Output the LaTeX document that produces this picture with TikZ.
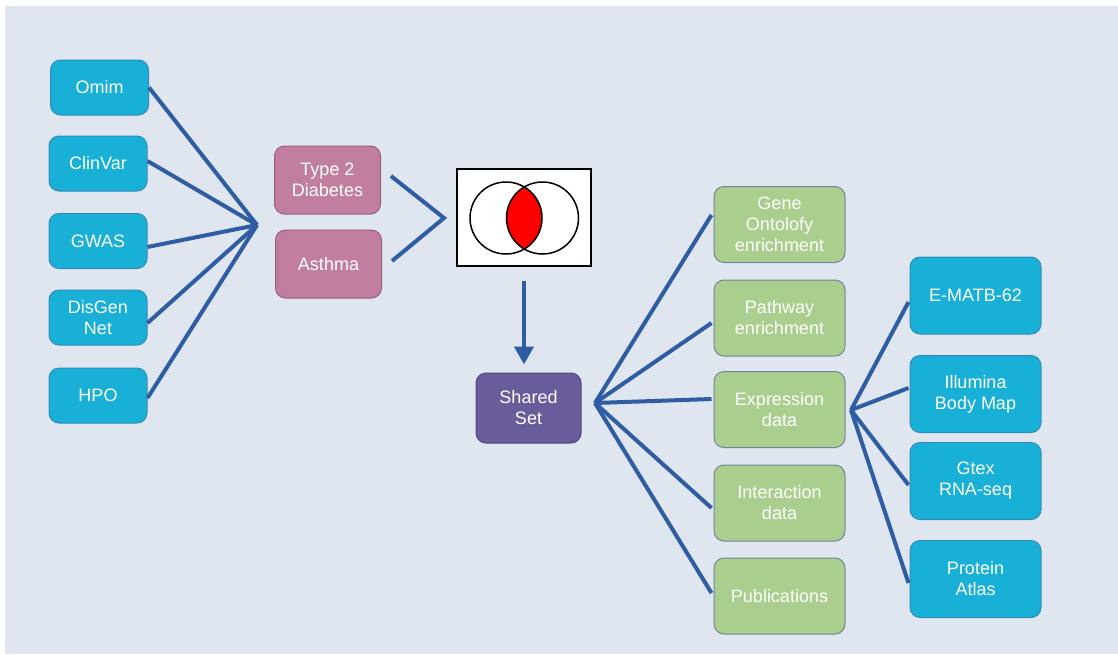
\documentclass[tikz,border=0pt]{standalone}
\usepackage{fontspec}
\setmainfont{Liberation Sans}
\usetikzlibrary{arrows.meta,calc}
\definecolor{bg}{RGB}{223,230,240}
\definecolor{cyanfill}{RGB}{24,176,214}
\definecolor{cyanline}{RGB}{50,140,185}
\definecolor{pinkfill}{RGB}{193,126,158}
\definecolor{pinkline}{RGB}{150,95,130}
\definecolor{purplefill}{RGB}{106,91,155}
\definecolor{purpleline}{RGB}{80,70,130}
\definecolor{greenfill}{RGB}{170,206,142}
\definecolor{greenline}{RGB}{110,135,150}
\definecolor{linkc}{RGB}{46,93,163}
\begin{document}
\begin{tikzpicture}[x=1pt,y=-1pt,
  box/.style={rounded corners=10pt, draw, line width=1pt, text=white, align=center,
    font=\fontsize{18}{21}\selectfont, inner sep=0pt},
  cbox/.style={box, fill=cyanfill, draw=cyanline, minimum width=98pt, minimum height=55pt},
  rbox/.style={box, fill=cyanfill, draw=cyanline, minimum width=131pt, minimum height=77pt},
  pbox/.style={box, fill=pinkfill, draw=pinkline, minimum width=106pt, minimum height=68pt},
  sbox/.style={box, fill=purplefill, draw=purpleline, minimum width=105pt, minimum height=70pt},
  gbox/.style={box, fill=greenfill, draw=greenline, minimum width=131pt, minimum height=76pt},
  link/.style={draw=linkc, line width=4pt}]
\fill[white] (0,0) rectangle (1118,654);
\fill[bg] (5,6) rectangle (1118,654);
\useasboundingbox (0,0) rectangle (1118,654);

% left sources
\node[cbox] (omim) at (99.5,87.5) {Omim};
\node[cbox] (clinvar) at (98,163.5) {ClinVar};
\node[cbox] (gwas) at (98,241) {GWAS};
\node[cbox] (disgen) at (98,317.5) {DisGen\\Net};
\node[cbox] (hpo) at (98,395.5) {HPO};
\coordinate (lhub) at (257,225);
\draw[link] (omim.east) -- (lhub);
\draw[link] ($(clinvar.east)+(0,-2.5)$) -- (lhub);
\draw[link] ($(gwas.east)+(0,6)$) -- (lhub);
\draw[link] ($(disgen.east)+(0,5.5)$) -- (lhub);
\draw[link] ($(hpo.east)+(0,2.5)$) -- (lhub);

% diseases
\node[pbox] (t2d) at (327.5,180) {Type 2\\Diabetes};
\node[pbox] (asthma) at (328.5,264) {Asthma};

% venn
\node[draw=black, line width=2pt, fill=white, minimum width=134pt, minimum height=97pt, inner sep=0pt] (venn) at (524,217.5) {};
\begin{scope}
  \clip (506,218) circle[radius=36pt];
  \fill[red] (542.5,218) circle[radius=36pt];
\end{scope}
\draw[line width=1.5pt] (506,218) circle[radius=36pt] (542.5,218) circle[radius=36pt];
\coordinate (vapex) at ($(venn.west)+(-12,0.5)$);
\draw[link, line join=miter] ($(t2d.east)+(10,-4)$) -- (vapex) -- ($(asthma.east)+(10,-3)$);

% shared set
\node[sbox] (shared) at (528.5,408) {Shared\\Set};
\draw[link, -{Triangle[width=19pt,length=18pt]}, shorten <=14pt, shorten >=8pt] (venn.south) -- (venn.south |- shared.north);
\coordinate (shub) at (595,403);

% analyses
\node[gbox] (gene) at (779.5,224.5) {Gene\\Ontolofy\\enrichment};
\node[gbox] (path) at (779.5,318) {Pathway\\enrichment};
\node[gbox] (expr) at (779.5,409.5) {Expression\\data};
\node[gbox] (inter) at (779.5,503) {Interaction\\data};
\node[gbox] (pub) at (779.5,596) {Publications};
\draw[link] (shub) -- ($(gene.west)+(-2,-9.5)$);
\draw[link] (shub) -- ($(path.west)+(-2,5)$);
\draw[link] (shub) -- ($(expr.west)+(-2,-10.5)$);
\draw[link] (shub) -- ($(inter.west)+(-2,5)$);
\draw[link] (shub) -- ($(pub.west)+(-2,-3)$);

% expression sources
\coordinate (ehub) at (851,410);
\node[rbox] (ematb) at (975.5,295.5) {E-MATB-62};
\node[rbox] (illu) at (975.5,394) {Illumina\\Body Map};
\node[rbox] (gtex) at (975.5,481) {Gtex\\RNA-seq};
\node[rbox] (prot) at (975.5,579) {Protein\\Atlas};
\draw[link] (ehub) -- ($(ematb.west)+(-1,6.5)$);
\draw[link] (ehub) -- ($(illu.west)+(-1,-6)$);
\draw[link] (ehub) -- ($(gtex.west)+(-1,4)$);
\draw[link] (ehub) -- ($(prot.west)+(-1,4)$);
\end{tikzpicture}
\end{document}
